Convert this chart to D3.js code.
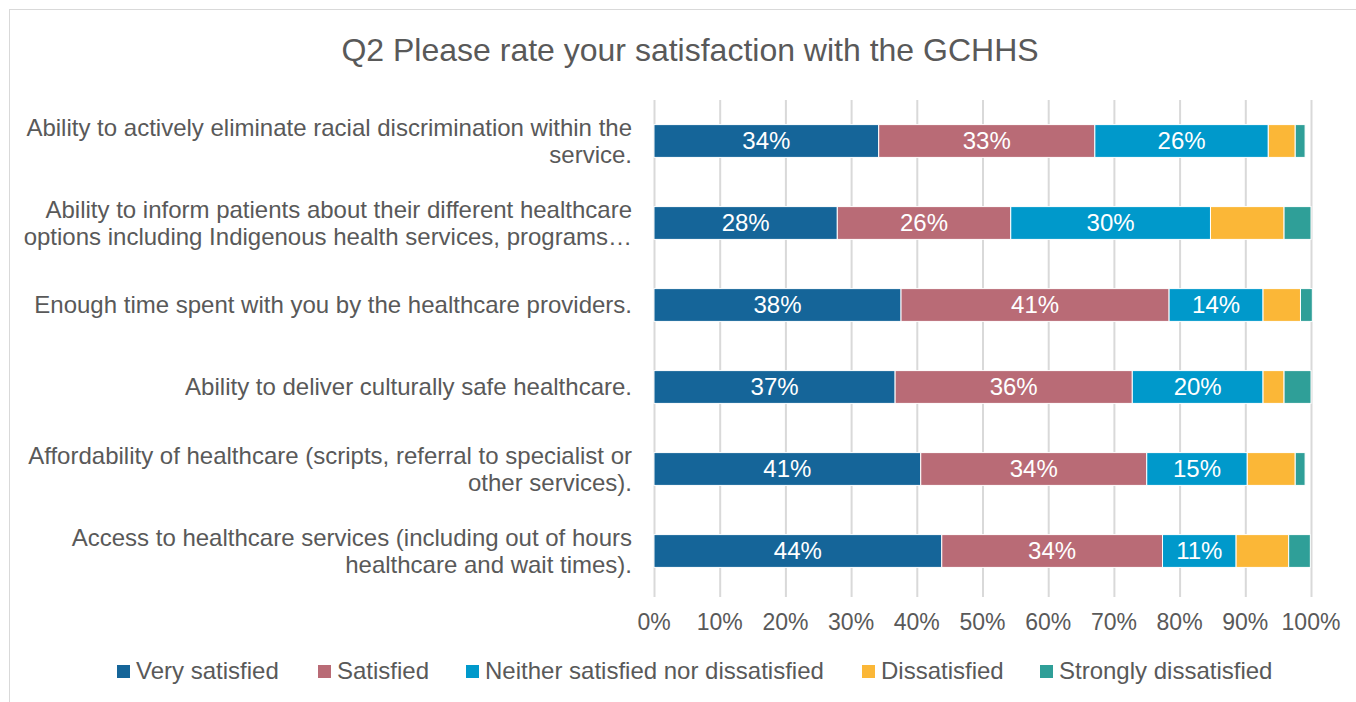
<!DOCTYPE html>
<html>
<head>
<meta charset="utf-8">
<script src="https://cdn.jsdelivr.net/npm/d3@7"></script>
<style>
  html, body { margin: 0; padding: 0; background: #fff; }
  svg { display: block; font-family: "Liberation Sans", Arial, sans-serif; }
</style>
</head>
<body>
<svg id="chart" width="1356" height="702"></svg>
<script>
// Survey statements (top to bottom), with explicit line breaks
const categories = [
  "Ability to actively eliminate racial discrimination within the\nservice.",
  "Ability to inform patients about their different healthcare\noptions including Indigenous health services, programs…",
  "Enough time spent with you by the healthcare providers.",
  "Ability to deliver culturally safe healthcare.",
  "Affordability of healthcare (scripts, referral to specialist or\nother services).",
  "Access to healthcare services (including out of hours\nhealthcare and wait times)."
];

const seriesNames = ["Very satisfied", "Satisfied", "Neither satisfied nor dissatisfied", "Dissatisfied", "Strongly dissatisfied"];

// Percent of respondents per statement, in category order
const verySatisfied   = [34.2, 27.9, 37.6, 36.7, 40.6, 43.8];
const satisfied       = [32.9, 26.4, 40.8, 36.1, 34.4, 33.6];
const neither         = [26.4, 30.4, 14.3, 19.9, 15.3, 11.2];
const dissatisfied    = [4.1, 11.2, 5.7, 3.2, 7.3, 8.0];
const strongly        = [1.5, 4.1, 1.8, 4.1, 1.5, 3.3];

const tickValues = [0, 10, 20, 30, 40, 50, 60, 70, 80, 90, 100];

const colors = ["#156599", "#b96b76", "#0099cb", "#fbb737", "#2f9f98"];
const labelledSeries = 3; // data labels on the first three series only

const seriesValues = [verySatisfied, satisfied, neither, dissatisfied, strongly];
const rows = categories.map((c, i) => {
  const r = { category: c };
  seriesNames.forEach((s, k) => { r[s] = seriesValues[k][i]; });
  return r;
});

const svg = d3.select("#chart");
const textColor = "#595959";

// Outer frame
svg.append("rect")
  .attr("x", 9.5).attr("y", 9.5)
  .attr("width", 1400).attr("height", 760)
  .attr("fill", "none").attr("stroke", "#d9d9d9").attr("stroke-width", 1);

// Title
svg.append("text")
  .attr("x", 690).attr("y", 61)
  .attr("text-anchor", "middle")
  .attr("font-size", 32)
  .attr("fill", textColor)
  .text("Q2 Please rate your satisfaction with the GCHHS");

const x = d3.scaleLinear().domain([0, 100]).range([654, 1311]);
const y = d3.scaleBand().domain(categories).range([100, 592]).paddingInner(0.6).paddingOuter(0.3);

// Vertical gridlines
svg.append("g").selectAll("line")
  .data(tickValues)
  .join("line")
  .attr("x1", d => x(d) + 0.5).attr("x2", d => x(d) + 0.5)
  .attr("y1", 100).attr("y2", 597)
  .attr("stroke", "#d9d9d9").attr("stroke-width", 2);

// Stacked bars
const stack = d3.stack().keys(seriesNames);
const stacked = stack(rows);

const layers = svg.append("g").selectAll("g")
  .data(stacked)
  .join("g")
  .attr("fill", (d, i) => colors[i]);

layers.selectAll("rect")
  .data(d => d)
  .join("rect")
  .attr("x", d => x(d[0]))
  .attr("width", d => x(d[1]) - x(d[0]))
  .attr("y", d => y(d.data.category))
  .attr("height", y.bandwidth())
  .attr("stroke", "#ffffff")
  .attr("stroke-width", 1);

// Data labels
layers.filter((d, i) => i < labelledSeries)
  .selectAll("text")
  .data(d => d)
  .join("text")
  .attr("x", d => (x(d[0]) + x(d[1])) / 2)
  .attr("y", d => y(d.data.category) + y.bandwidth() / 2)
  .attr("dy", "0.35em")
  .attr("text-anchor", "middle")
  .attr("font-size", 24)
  .attr("fill", "#ffffff")
  .text(d => Math.round(d[1] - d[0]) + "%");

// Category labels (right aligned, wrapped)
const catG = svg.append("g");
categories.forEach(c => {
  const lines = c.split("\n");
  const cy = y(c) + y.bandwidth() / 2;
  const lh = 27;
  const t = catG.append("text")
    .attr("text-anchor", "end")
    .attr("font-size", 24)
    .attr("fill", textColor);
  lines.forEach((ln, j) => {
    t.append("tspan")
      .attr("x", 632)
      .attr("y", cy - (lines.length - 1) * lh / 2 + j * lh)
      .attr("dy", "0.35em")
      .text(ln);
  });
});

// X axis tick labels
svg.append("g").selectAll("text")
  .data(tickValues)
  .join("text")
  .attr("x", d => x(d))
  .attr("y", 622)
  .attr("dy", "0.35em")
  .attr("text-anchor", "middle")
  .attr("font-size", 23)
  .attr("fill", textColor)
  .text(d => d + "%");

// Legend
const legendX = [117, 318, 466, 862, 1040];
const legend = svg.append("g").selectAll("g")
  .data(seriesNames)
  .join("g")
  .attr("transform", (d, i) => `translate(${legendX[i]},671)`);
legend.append("rect")
  .attr("x", 0).attr("y", -6)
  .attr("width", 13).attr("height", 13)
  .attr("fill", (d, i) => colors[i]);
legend.append("text")
  .attr("x", 19).attr("y", 0)
  .attr("dy", "0.35em")
  .attr("font-size", 24)
  .attr("fill", textColor)
  .text(d => d);
</script>
</body>
</html>
